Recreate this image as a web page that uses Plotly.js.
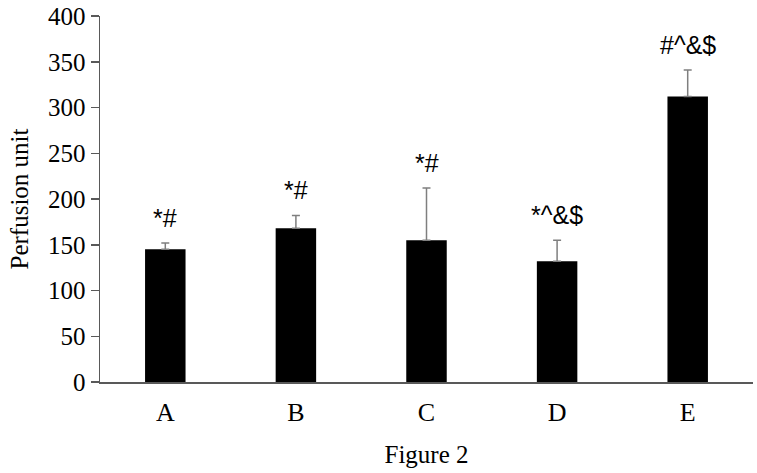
<!DOCTYPE html>
<html>
<head>
<meta charset="utf-8">
<script src="https://cdn.plot.ly/plotly-3.0.1.min.js"></script>
<style>
  html, body { margin: 0; padding: 0; background: #fff; }
  #chart { width: 757px; height: 473px; }
</style>
</head>
<body>
<div id="chart"></div>
<script>
// groups and values
var groups = ['A', 'B', 'C', 'D', 'E'];
var perfusion = [145, 168, 155, 132, 312];
var errors = [7, 14, 57, 23, 29];
var marks = ['*#', '*#', '*#', '*^&$', '#^&$'];
var yTicks = [0, 50, 100, 150, 200, 250, 300, 350, 400];

var serif = 'Times New Roman';

var trace = {
    x: groups,
    y: perfusion,
    type: 'bar',
    width: 0.31,
    marker: { color: '#000000' },
    error_y: {
        type: 'data',
        array: errors,
        symmetric: false,
        arrayminus: groups.map(function () { return 0; }),
        color: '#7f7f7f',
        thickness: 1.5,
        width: 4
    },
    hoverinfo: 'none'
};

// significance marks sit above each error cap
var notes = groups.map(function (g, i) {
    return {
        x: g,
        y: perfusion[i] + errors[i],
        text: marks[i],
        showarrow: false,
        yanchor: 'middle',
        yshift: 25,
        font: { family: 'Liberation Sans', size: 25, color: '#000' }
    };
});

var layout = {
    width: 757,
    height: 473,
    margin: { l: 100, r: 4, t: 16, b: 91 },
    paper_bgcolor: '#fff',
    plot_bgcolor: '#fff',
    showlegend: false,
    font: { family: serif, size: 24, color: '#000' },
    xaxis: {
        type: 'category',
        range: [-0.5, 4.5],
        showline: true,
        linecolor: '#595959',
        linewidth: 1.5,
        ticks: '',
        showgrid: false,
        zeroline: false,
        ticklabelstandoff: 6,
        tickfont: { family: serif, size: 26, color: '#000' },
        title: { text: 'Figure 2', font: { family: serif, size: 25, color: '#000' }, standoff: 20 }
    },
    yaxis: {
        range: [0, 400],
        tickvals: yTicks,
        ticklabeloverflow: 'allow',
        showline: true,
        linecolor: '#595959',
        linewidth: 1.5,
        ticks: 'outside',
        ticklen: 8,
        tickwidth: 1.5,
        tickcolor: '#595959',
        showgrid: false,
        zeroline: false,
        tickfont: { family: serif, size: 25, color: '#000' },
        title: { text: 'Perfusion unit', font: { family: serif, size: 25, color: '#000' }, standoff: 12 }
    },
    annotations: notes
};

Plotly.newPlot('chart', [trace], layout, { displayModeBar: false, staticPlot: true });
</script>
</body>
</html>
